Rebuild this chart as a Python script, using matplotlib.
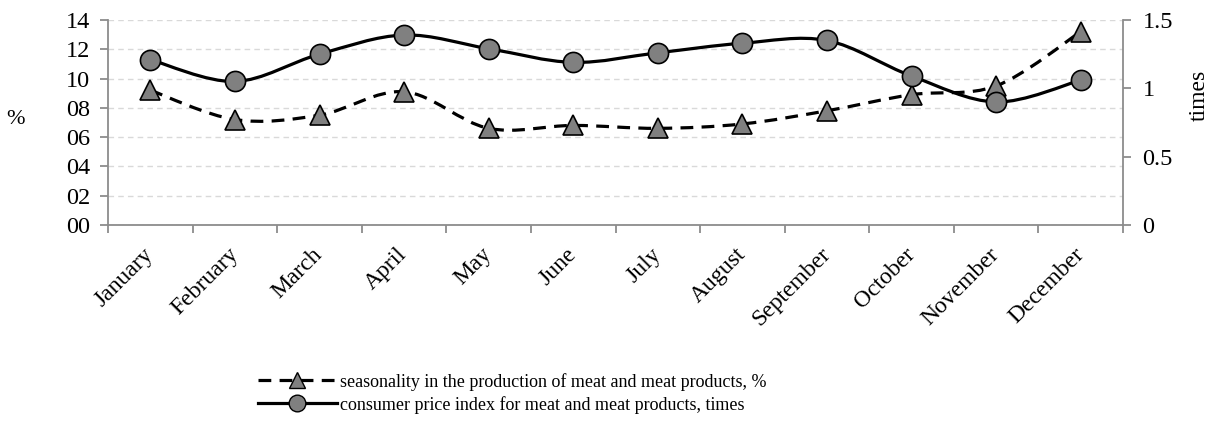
import matplotlib
matplotlib.use("Agg")
import matplotlib.pyplot as plt
from matplotlib.path import Path
from matplotlib.patches import PathPatch
from matplotlib.lines import Line2D
from matplotlib.ticker import FuncFormatter, FixedLocator

plt.rcParams['font.family'] = ['Liberation Serif', 'DejaVu Serif']

# data
months = ["January", "February", "March", "April", "May", "June", "July",
          "August", "September", "October", "November", "December"]
seasonality = [9.2, 7.2, 7.5, 9.1, 6.6, 6.8, 6.6, 6.9, 7.8, 8.9, 9.5, 13.2]
cpi = [1.21, 1.05, 1.25, 1.39, 1.29, 1.19, 1.26, 1.33, 1.35, 1.09, 0.90, 1.06]

seas_label = "seasonality in the production of meat and meat products, %"
cpi_label = "consumer price index for meat and meat products, times"

GRAY = "#808080"
AXIS_GRAY = "#8c8c8c"
DASH = (0, (4, 2.6))


def smooth_path(xs, ys):
    """Excel-like smoothed line: cubic Bezier segments through every point"""
    n = len(xs)
    verts = [(xs[0], ys[0])]
    codes = [Path.MOVETO]
    for i in range(n - 1):
        x0, y0 = (xs[i - 1], ys[i - 1]) if i > 0 else (xs[i], ys[i])
        x1, y1 = xs[i], ys[i]
        x2, y2 = xs[i + 1], ys[i + 1]
        x3, y3 = (xs[i + 2], ys[i + 2]) if i + 2 < n else (x2, y2)
        c1 = (x1 + (x2 - x0) / 6, y1 + (y2 - y0) / 6)
        c2 = (x2 - (x3 - x1) / 6, y2 - (y3 - y1) / 6)
        verts += [c1, c2, (x2, y2)]
        codes += [Path.CURVE4] * 3
    return Path(verts, codes)


fig = plt.figure(figsize=(12.1, 4.21), dpi=100)
ax = fig.add_axes([0.0893, 0.4656, 0.8388, 0.4869])
ax2 = ax.twinx()

x = list(range(len(months)))

# dashed seasonality line on the left axis
ax.add_patch(PathPatch(smooth_path(x, seasonality), fill=False, edgecolor="black",
                       lw=2.3, linestyle=DASH, capstyle="butt", zorder=3))
ax.plot(x, seasonality, linestyle="none", marker="^", markersize=14,
        markerfacecolor=GRAY, markeredgecolor="black", markeredgewidth=1.2, zorder=4)

# solid cpi line on the right axis
ax2.add_patch(PathPatch(smooth_path(x, cpi), fill=False, edgecolor="black",
                        lw=2.3, zorder=3))
ax2.plot(x, cpi, linestyle="none", marker="o", markersize=14.5,
         markerfacecolor=GRAY, markeredgecolor="black", markeredgewidth=1.2, zorder=4)

ax.set_xlim(-0.5, len(months) - 0.5)
ax.set_ylim(0, 14)
ax2.set_ylim(0, 1.5)

ax.set_yticks(range(0, 15, 2))
ax.yaxis.set_major_formatter(FuncFormatter(lambda v, p: "%02d" % v))
ax2.set_yticks([0, 0.5, 1, 1.5])
ax2.yaxis.set_major_formatter(FuncFormatter(lambda v, p: "%g" % v))

ax.set_xticks(x)
ax.set_xticklabels(months, rotation=45, ha="right", va="center",
                   rotation_mode="anchor", fontsize=17)
ax.xaxis.set_minor_locator(FixedLocator([i - 0.5 for i in range(len(months) + 1)]))
ax.tick_params(axis="x", which="major", length=0, pad=19)
ax.tick_params(axis="x", which="minor", length=6, color=AXIS_GRAY, width=1.3)
ax.tick_params(axis="y", labelsize=17.5, length=6, color=AXIS_GRAY, width=1.3, pad=7)
ax2.tick_params(axis="y", labelsize=17.5, length=6, color=AXIS_GRAY, width=1.3, pad=8)

ax.yaxis.grid(True, linestyle=(0, (4, 3)), color="#d9d9d9", lw=1)
ax.set_axisbelow(True)

for a in (ax, ax2):
    a.spines["top"].set_visible(False)
    for s in ("left", "right", "bottom"):
        a.spines[s].set_color(AXIS_GRAY)
        a.spines[s].set_linewidth(1.3)
ax2.spines["left"].set_visible(False)
ax2.spines["bottom"].set_visible(False)
ax.spines["right"].set_visible(False)

ax.set_ylabel("%", rotation=0, fontsize=16, ha="center", va="center")
ax.yaxis.set_label_coords(-0.091, 0.517)
ax2.set_ylabel("times", fontsize=17, rotation=90, ha="center", va="center")
ax2.yaxis.set_label_coords(1.075, 0.63)

handles = [
    Line2D([], [], color="black", lw=2.3, linestyle=DASH, marker="^",
           markersize=11, markerfacecolor=GRAY, markeredgecolor="black"),
    Line2D([], [], color="black", lw=2.3, marker="o",
           markersize=12, markerfacecolor=GRAY, markeredgecolor="black"),
]
fig.legend(handles, [seas_label, cpi_label], loc="center", ncol=1,
           bbox_to_anchor=(0.423, 0.066), frameon=False, fontsize=13,
           handlelength=4.4, handletextpad=0.15, labelspacing=0.3)

fig.savefig("out.png", dpi=100)
